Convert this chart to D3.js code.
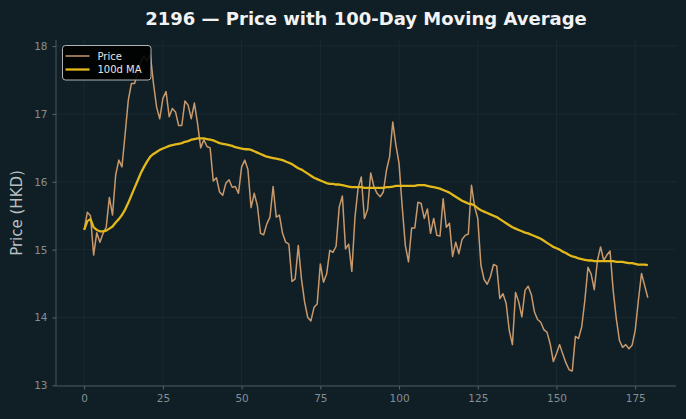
<!DOCTYPE html>
<html>
<head>
<meta charset="utf-8">
<script src="https://cdn.jsdelivr.net/npm/d3@7"></script>
<style>
  html, body { margin: 0; padding: 0; background: #101f26; }
  svg { display: block; font-family: "DejaVu Sans", sans-serif; }
</style>
</head>
<body>
<svg id="chart"></svg>
<script>
// price per trading day (index 0..179)
var price = [
  15.29, 15.55, 15.50, 14.92, 15.25, 15.11, 15.24, 15.33, 15.77, 15.51,
  16.10, 16.32, 16.22, 16.70, 17.20, 17.45, 17.45, 17.60, 17.77, 17.85,
  17.78, 17.88, 17.45, 17.10, 16.93, 17.23, 17.33, 16.96, 17.08, 17.03,
  16.83, 16.83, 17.19, 17.13, 16.93, 17.16, 16.86, 16.50, 16.62, 16.52,
  16.50, 16.01, 16.06, 15.85, 15.80, 15.98, 16.03, 15.92, 15.93, 15.83,
  16.22, 16.32, 16.18, 15.62, 15.83, 15.65, 15.24, 15.22, 15.38, 15.48,
  15.93, 15.48, 15.51, 15.24, 15.11, 15.08, 14.53, 14.57, 15.06, 14.57,
  14.23, 14.00, 13.95, 14.15, 14.20, 14.79, 14.52, 14.64, 14.99, 14.96,
  15.05, 15.63, 15.79, 15.01, 15.08, 14.68, 15.48, 15.91, 16.07, 15.46,
  15.59, 16.13, 15.93, 15.83, 15.78, 15.85, 16.17, 16.37, 16.88, 16.54,
  16.27, 15.63, 15.06, 14.82, 15.32, 15.32, 15.70, 15.68, 15.46, 15.60,
  15.24, 15.46, 15.21, 15.20, 15.75, 15.33, 15.39, 14.90, 15.11, 14.94,
  15.15, 15.21, 15.23, 15.95, 15.63, 15.46, 14.77, 14.56, 14.49, 14.60,
  14.78, 14.76, 14.28, 14.35, 14.21, 13.81, 13.60, 14.37, 14.23, 14.01,
  14.40, 14.46, 14.34, 14.08, 13.97, 13.93, 13.82, 13.78, 13.61, 13.35,
  13.47, 13.60, 13.46, 13.33, 13.23, 13.21, 13.72, 13.69, 13.86, 14.25,
  14.74, 14.64, 14.41, 14.84, 15.04, 14.84, 14.92, 14.98, 14.40, 13.98,
  13.66, 13.56, 13.60, 13.54, 13.59, 13.81, 14.25, 14.65, 14.47, 14.29
];

// 100-day moving average, also
var ma100 = [
  15.29, 15.42, 15.45, 15.33, 15.29, 15.27, 15.27, 15.28, 15.31, 15.34,
  15.40, 15.45, 15.51, 15.59, 15.69, 15.80, 15.91, 16.02, 16.13, 16.22,
  16.30, 16.37, 16.41, 16.44, 16.47, 16.49, 16.51, 16.53, 16.54, 16.55,
  16.56, 16.57, 16.59, 16.60, 16.62, 16.63, 16.64, 16.64, 16.64, 16.63,
  16.62, 16.61, 16.59, 16.57, 16.56, 16.55, 16.54, 16.53, 16.51, 16.50,
  16.49, 16.48, 16.48, 16.47, 16.45, 16.43, 16.41, 16.39, 16.37, 16.36,
  16.35, 16.34, 16.33, 16.32, 16.30, 16.28, 16.26, 16.23, 16.20, 16.18,
  16.15, 16.12, 16.09, 16.06, 16.04, 16.02, 16.00, 15.98, 15.97, 15.97,
  15.96, 15.96, 15.95, 15.94, 15.93, 15.92, 15.92, 15.92, 15.92, 15.91,
  15.91, 15.91, 15.91, 15.91, 15.91, 15.91, 15.92, 15.92, 15.93, 15.94,
  15.94, 15.94, 15.94, 15.94, 15.94, 15.94, 15.95, 15.95, 15.95, 15.94,
  15.93, 15.92, 15.91, 15.90, 15.88, 15.86, 15.84, 15.81, 15.78, 15.75,
  15.72, 15.70, 15.68, 15.67, 15.65, 15.61, 15.58, 15.56, 15.54, 15.52,
  15.50, 15.48, 15.45, 15.42, 15.39, 15.36, 15.33, 15.31, 15.29, 15.27,
  15.25, 15.24, 15.22, 15.20, 15.18, 15.16, 15.13, 15.10, 15.07, 15.04,
  15.02, 15.00, 14.97, 14.95, 14.92, 14.90, 14.89, 14.87, 14.86, 14.85,
  14.84, 14.84, 14.83, 14.83, 14.83, 14.83, 14.83, 14.83, 14.83, 14.82,
  14.82, 14.82, 14.81, 14.80, 14.80, 14.79, 14.78, 14.78, 14.78, 14.77
];

var xTicks = [0, 25, 50, 75, 100, 125, 150, 175];
var yTicks = [13, 14, 15, 16, 17, 18];

var title = "2196 \u2014 Price with 100-Day Moving Average";
var yLabel = "Price (HKD)";
var legendNames = ["Price", "100d MA"];

var width = 686, height = 419;
var margin = {top: 40, right: 10, bottom: 33, left: 56};

var priceColor = "#c9996b", maColor = "#e3b81a";

var svg = d3.select("#chart")
    .attr("width", width)
    .attr("height", height);

svg.append("rect")
    .attr("width", width).attr("height", height)
    .attr("fill", "#101f26");

var xScale = d3.scaleLinear()
    .domain([-8.95, 187.95])
    .range([margin.left, width - margin.right]);

var yScale = d3.scaleLinear()
    .domain([12.99, 18.09])
    .range([height - margin.bottom, margin.top]);

// faint grid
var grid = svg.append("g").attr("class", "grid");
grid.selectAll(".gx").data(xTicks).enter().append("line")
    .attr("x1", d => xScale(d)).attr("x2", d => xScale(d))
    .attr("y1", margin.top).attr("y2", height - margin.bottom)
    .attr("stroke", "#1b2c33").attr("stroke-width", 0.8);
grid.selectAll(".gy").data(yTicks).enter().append("line")
    .attr("x1", margin.left).attr("x2", width - margin.right)
    .attr("y1", d => yScale(d)).attr("y2", d => yScale(d))
    .attr("stroke", "#1b2c33").attr("stroke-width", 0.8);

// axes
var xAxis = d3.axisBottom(xScale).tickValues(xTicks).tickSize(3.5).tickPadding(5);
var yAxis = d3.axisLeft(yScale).tickValues(yTicks).tickFormat(d3.format("d"))
    .tickSize(3.5).tickPadding(5);

var gx = svg.append("g")
    .attr("transform", "translate(0," + (height - margin.bottom) + ")")
    .call(xAxis);
var gy = svg.append("g")
    .attr("transform", "translate(" + margin.left + ",0)")
    .call(yAxis);

[gx, gy].forEach(function(g) {
    g.select(".domain").remove();
    g.selectAll(".tick line").attr("stroke", "#5c666b");
    g.selectAll(".tick text")
        .attr("fill", "#858e92")
        .style("font-size", "10.5px")
        .style("font-family", "DejaVu Sans");
});

// spines: left and bottom only
svg.append("line")
    .attr("x1", margin.left).attr("x2", margin.left)
    .attr("y1", margin.top).attr("y2", height - margin.bottom)
    .attr("stroke", "#4d575c");
svg.append("line")
    .attr("x1", margin.left).attr("x2", width - margin.right)
    .attr("y1", height - margin.bottom).attr("y2", height - margin.bottom)
    .attr("stroke", "#4d575c");

var line = d3.line()
    .x(function(d, i) { return xScale(i); })
    .y(function(d) { return yScale(d); });

svg.append("path")
    .datum(price)
    .attr("fill", "none")
    .attr("stroke", priceColor)
    .attr("stroke-width", 1.5)
    .attr("stroke-linejoin", "round")
    .attr("d", line);

svg.append("path")
    .datum(ma100)
    .attr("fill", "none")
    .attr("stroke", maColor)
    .attr("stroke-width", 2.3)
    .attr("stroke-linejoin", "round")
    .attr("d", line);

// title
svg.append("text")
    .attr("x", (margin.left + width - margin.right) / 2)
    .attr("y", 25)
    .attr("text-anchor", "middle")
    .attr("fill", "#f2f2f2")
    .style("font-size", "18px")
    .style("font-weight", "bold")
    .text(title);

// y label
svg.append("text")
    .attr("transform", "translate(22," + ((margin.top + height - margin.bottom) / 2) + ") rotate(-90)")
    .attr("text-anchor", "middle")
    .attr("fill", "#b9c0c3")
    .style("font-size", "15px")
    .text(yLabel);

// legend
var legend = svg.append("g").attr("transform", "translate(62.5,45.5)");
legend.append("rect")
    .attr("width", 88.5).attr("height", 34.5)
    .attr("rx", 3)
    .attr("fill", "#000000").attr("fill-opacity", 0.9)
    .attr("stroke", "#b0b4b6").attr("stroke-width", 1);

var colors = [priceColor, maColor], widths = [1.5, 2.3];
legendNames.forEach(function(name, i) {
    var y = 10.5 + i * 13.5;
    legend.append("line")
        .attr("x1", 3).attr("x2", 27)
        .attr("y1", y).attr("y2", y)
        .attr("stroke", colors[i]).attr("stroke-width", widths[i]);
    legend.append("text")
        .attr("x", 35).attr("y", y)
        .attr("dy", "0.35em")
        .attr("fill", "#e6e6e6")
        .style("font-size", "10px")
        .text(name);
});
</script>
</body>
</html>
